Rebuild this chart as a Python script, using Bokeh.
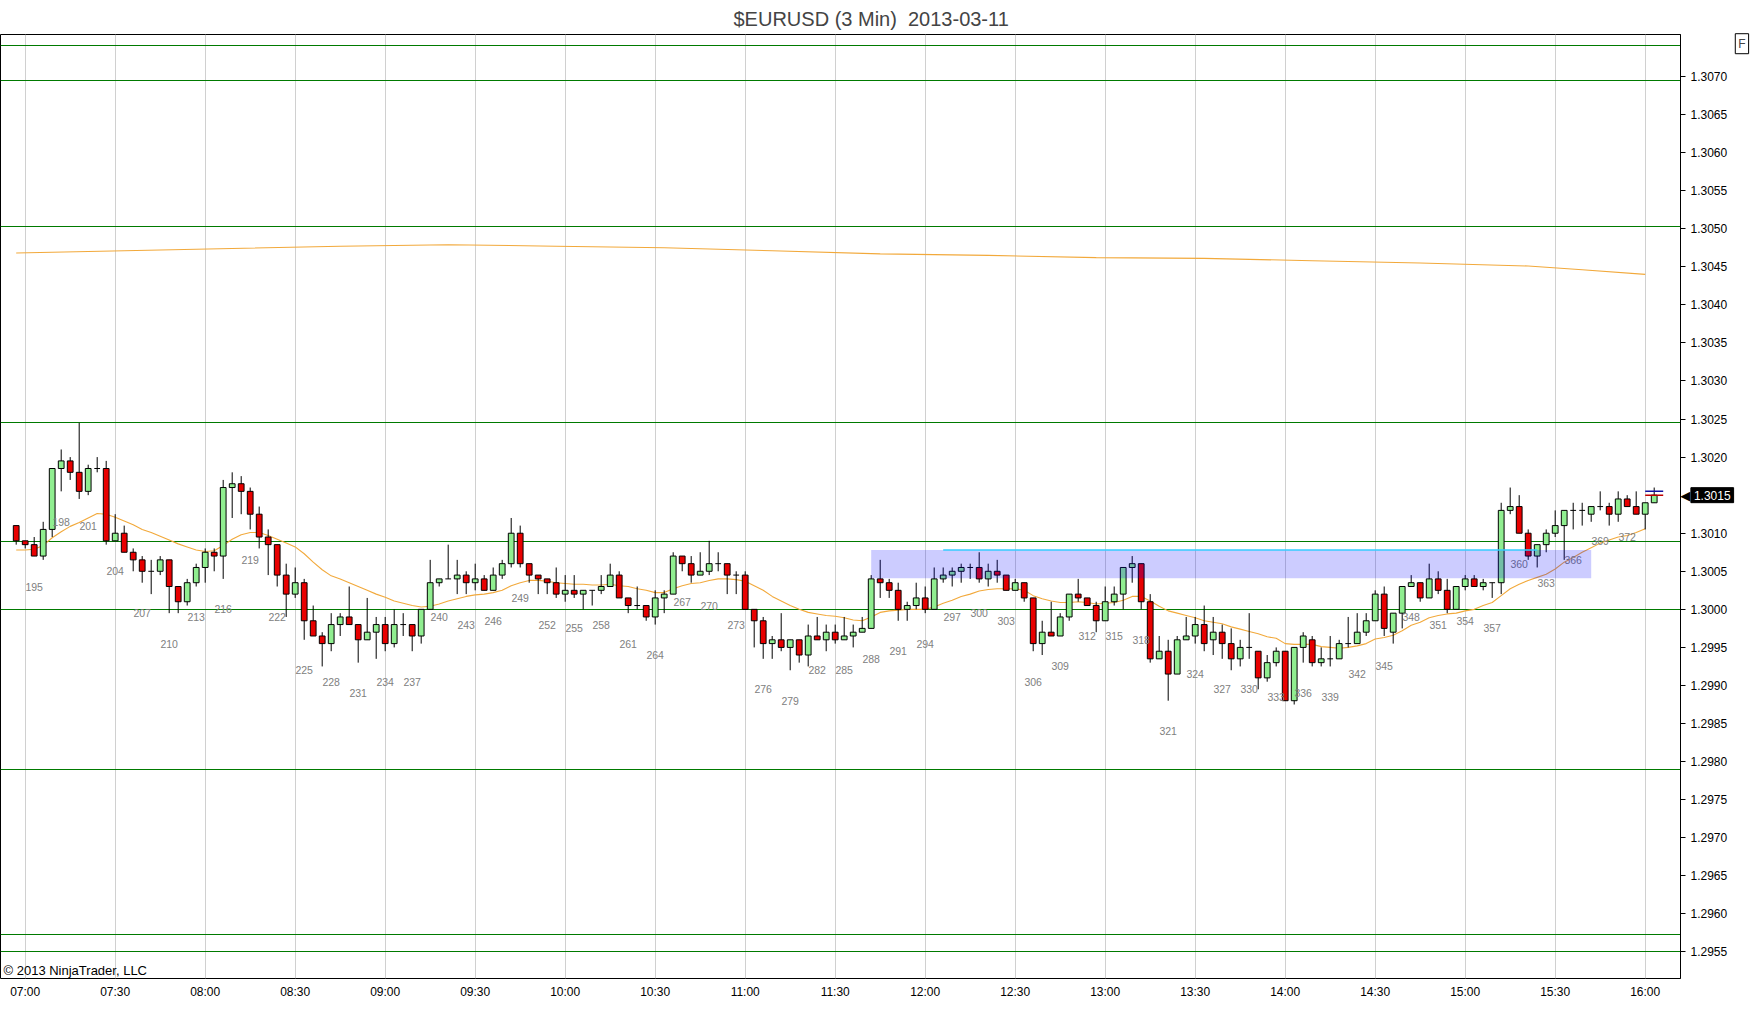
from bokeh.plotting import figure
from bokeh.models import ColumnDataSource, Range1d, FixedTicker, Label, NumeralTickFormatter
from bokeh.embed import file_html
from bokeh.resources import INLINE
from bokeh.core.properties import value

title_text = "$EURUSD (3 Min) \u00a02013-03-11"
copyright_text = "\u00a9 2013 NinjaTrader, LLC"

first_bar = 193
opens = [1.30110, 1.30090, 1.30085, 1.30070, 1.30105, 1.30185, 1.30195, 1.30180, 1.30155, 1.30185,
         1.30185, 1.30090, 1.30100, 1.30075, 1.30065, 1.30050, 1.30050, 1.30065, 1.30030, 1.30010,
         1.30035, 1.30055, 1.30075, 1.30070, 1.30160, 1.30165, 1.30155, 1.30125, 1.30095, 1.30085,
         1.30045, 1.30020, 1.30035, 1.29985, 1.29965, 1.29955, 1.29980, 1.29990, 1.29980, 1.29960,
         1.29970, 1.29980, 1.29955, 1.29980, 1.29980, 1.29965, 1.30000, 1.30035, 1.30040, 1.30040,
         1.30045, 1.30035, 1.30040, 1.30025, 1.30045, 1.30060, 1.30100, 1.30060, 1.30045, 1.30040,
         1.30035, 1.30020, 1.30025, 1.30020, 1.30025, 1.30025, 1.30030, 1.30045, 1.30015, 1.30005,
         1.30005, 1.29990, 1.30015, 1.30020, 1.30070, 1.30060, 1.30045, 1.30050, 1.30060, 1.30060,
         1.30045, 1.30045, 1.30000, 1.29985, 1.29955, 1.29960, 1.29950, 1.29960, 1.29940, 1.29965,
         1.29960, 1.29970, 1.29960, 1.29965, 1.29970, 1.29975, 1.30040, 1.30035, 1.30025, 1.30000,
         1.30005, 1.30015, 1.30000, 1.30040, 1.30045, 1.30050, 1.30055, 1.30055, 1.30040, 1.30050,
         1.30045, 1.30025, 1.30035, 1.30015, 1.29955, 1.29970, 1.29965, 1.29990, 1.30020, 1.30015,
         1.30005, 1.29985, 1.30010, 1.30020, 1.30055, 1.30060, 1.30010, 1.29935, 1.29945, 1.29915,
         1.29960, 1.29965, 1.29980, 1.29960, 1.29970, 1.29955, 1.29935, 1.29950, 1.29945, 1.29910,
         1.29930, 1.29945, 1.29880, 1.29950, 1.29960, 1.29930, 1.29935, 1.29935, 1.29955, 1.29955,
         1.29970, 1.29985, 1.30020, 1.29970, 1.29995, 1.30030, 1.30035, 1.30015, 1.30040, 1.30025,
         1.30000, 1.30030, 1.30040, 1.30030, 1.30035, 1.30035, 1.30130, 1.30135, 1.30100, 1.30070,
         1.30085, 1.30100, 1.30110, 1.30130, 1.30130, 1.30125, 1.30135, 1.30135, 1.30125, 1.30145,
         1.30135, 1.30125, 1.30140]
highs = [1.30110, 1.30090, 1.30095, 1.30115, 1.30185, 1.30210, 1.30200, 1.30245, 1.30190, 1.30200,
         1.30195, 1.30125, 1.30110, 1.30080, 1.30070, 1.30065, 1.30070, 1.30065, 1.30030, 1.30040,
         1.30060, 1.30080, 1.30080, 1.30170, 1.30180, 1.30175, 1.30160, 1.30135, 1.30105, 1.30085,
         1.30060, 1.30055, 1.30040, 1.30005, 1.29970, 1.29995, 1.29995, 1.30030, 1.29980, 1.30015,
         1.29990, 1.29990, 1.30000, 1.29995, 1.29980, 1.30000, 1.30065, 1.30040, 1.30085, 1.30065,
         1.30050, 1.30060, 1.30045, 1.30055, 1.30065, 1.30120, 1.30110, 1.30060, 1.30045, 1.30040,
         1.30055, 1.30045, 1.30045, 1.30025, 1.30025, 1.30045, 1.30060, 1.30050, 1.30015, 1.30030,
         1.30005, 1.30025, 1.30025, 1.30075, 1.30070, 1.30070, 1.30075, 1.30090, 1.30075, 1.30060,
         1.30050, 1.30050, 1.30000, 1.29990, 1.29965, 1.29995, 1.29960, 1.29960, 1.29980, 1.29990,
         1.29980, 1.29980, 1.29990, 1.29980, 1.29990, 1.30045, 1.30065, 1.30040, 1.30035, 1.30010,
         1.30035, 1.30030, 1.30055, 1.30055, 1.30055, 1.30060, 1.30060, 1.30075, 1.30060, 1.30065,
         1.30045, 1.30040, 1.30035, 1.30015, 1.29985, 1.30010, 1.29995, 1.30020, 1.30040, 1.30015,
         1.30010, 1.30030, 1.30030, 1.30055, 1.30070, 1.30060, 1.30020, 1.29965, 1.29960, 1.29965,
         1.29990, 1.29990, 1.30005, 1.29990, 1.29980, 1.29975, 1.29960, 1.29995, 1.29945, 1.29940,
         1.29950, 1.29945, 1.29950, 1.29970, 1.29965, 1.29950, 1.29965, 1.29960, 1.29990, 1.29995,
         1.29995, 1.30025, 1.30030, 1.29995, 1.30030, 1.30045, 1.30035, 1.30060, 1.30050, 1.30040,
         1.30030, 1.30045, 1.30045, 1.30040, 1.30035, 1.30140, 1.30160, 1.30150, 1.30105, 1.30085,
         1.30105, 1.30130, 1.30130, 1.30140, 1.30140, 1.30135, 1.30155, 1.30140, 1.30155, 1.30150,
         1.30155, 1.30140, 1.30160]
lows = [1.30085, 1.30080, 1.30070, 1.30065, 1.30095, 1.30155, 1.30170, 1.30145, 1.30150, 1.30180,
        1.30085, 1.30090, 1.30075, 1.30050, 1.30035, 1.30020, 1.30045, 1.29995, 1.29995, 1.30005,
        1.30030, 1.30035, 1.30050, 1.30040, 1.30120, 1.30125, 1.30105, 1.30080, 1.30045, 1.30030,
        1.29990, 1.30015, 1.29960, 1.29965, 1.29925, 1.29945, 1.29965, 1.29980, 1.29930, 1.29960,
        1.29935, 1.29945, 1.29950, 1.29965, 1.29945, 1.29955, 1.30000, 1.30030, 1.30040, 1.30020,
        1.30020, 1.30025, 1.30025, 1.30025, 1.30040, 1.30055, 1.30055, 1.30035, 1.30020, 1.30020,
        1.30015, 1.30010, 1.30015, 1.30000, 1.30005, 1.30020, 1.30030, 1.30015, 1.29995, 1.30000,
        1.29985, 1.29980, 1.29995, 1.30020, 1.30050, 1.30035, 1.30045, 1.30045, 1.30050, 1.30020,
        1.30020, 1.30000, 1.29950, 1.29935, 1.29935, 1.29945, 1.29920, 1.29930, 1.29925, 1.29960,
        1.29945, 1.29955, 1.29960, 1.29950, 1.29970, 1.29975, 1.30015, 1.30015, 1.29985, 1.29985,
        1.30000, 1.29995, 1.30000, 1.30035, 1.30030, 1.30035, 1.30040, 1.30035, 1.30030, 1.30035,
        1.30025, 1.30025, 1.30010, 1.29945, 1.29940, 1.29965, 1.29965, 1.29985, 1.30010, 1.30005,
        1.29970, 1.29985, 1.30005, 1.30000, 1.30035, 1.30000, 1.29930, 1.29935, 1.29880, 1.29915,
        1.29960, 1.29955, 1.29945, 1.29940, 1.29935, 1.29920, 1.29925, 1.29935, 1.29895, 1.29905,
        1.29925, 1.29880, 1.29875, 1.29930, 1.29925, 1.29925, 1.29925, 1.29935, 1.29950, 1.29955,
        1.29965, 1.29985, 1.29965, 1.29955, 1.29975, 1.30030, 1.30010, 1.30015, 1.30020, 1.29995,
        1.30000, 1.30025, 1.30030, 1.30025, 1.30015, 1.30020, 1.30125, 1.30100, 1.30065, 1.30055,
        1.30075, 1.30095, 1.30065, 1.30105, 1.30110, 1.30115, 1.30130, 1.30110, 1.30115, 1.30135,
        1.30125, 1.30105, 1.30140]
closes = [1.30090, 1.30085, 1.30070, 1.30105, 1.30185, 1.30195, 1.30180, 1.30155, 1.30185, 1.30185,
          1.30090, 1.30100, 1.30075, 1.30065, 1.30050, 1.30050, 1.30065, 1.30030, 1.30010, 1.30035,
          1.30055, 1.30075, 1.30070, 1.30160, 1.30165, 1.30155, 1.30125, 1.30095, 1.30085, 1.30045,
          1.30020, 1.30035, 1.29985, 1.29965, 1.29955, 1.29980, 1.29990, 1.29980, 1.29960, 1.29970,
          1.29980, 1.29955, 1.29980, 1.29980, 1.29965, 1.30000, 1.30035, 1.30040, 1.30040, 1.30045,
          1.30035, 1.30040, 1.30025, 1.30045, 1.30060, 1.30100, 1.30060, 1.30045, 1.30040, 1.30035,
          1.30020, 1.30025, 1.30020, 1.30025, 1.30025, 1.30030, 1.30045, 1.30015, 1.30005, 1.30005,
          1.29990, 1.30015, 1.30020, 1.30070, 1.30060, 1.30045, 1.30050, 1.30060, 1.30060, 1.30045,
          1.30045, 1.30000, 1.29985, 1.29955, 1.29960, 1.29950, 1.29960, 1.29940, 1.29965, 1.29960,
          1.29970, 1.29960, 1.29965, 1.29970, 1.29975, 1.30040, 1.30035, 1.30025, 1.30000, 1.30005,
          1.30015, 1.30000, 1.30040, 1.30045, 1.30050, 1.30055, 1.30055, 1.30040, 1.30050, 1.30045,
          1.30025, 1.30035, 1.30015, 1.29955, 1.29970, 1.29965, 1.29990, 1.30020, 1.30015, 1.30005,
          1.29985, 1.30010, 1.30020, 1.30055, 1.30060, 1.30010, 1.29935, 1.29945, 1.29915, 1.29960,
          1.29965, 1.29980, 1.29955, 1.29970, 1.29955, 1.29935, 1.29950, 1.29950, 1.29910, 1.29930,
          1.29945, 1.29880, 1.29950, 1.29965, 1.29930, 1.29935, 1.29935, 1.29955, 1.29955, 1.29970,
          1.29985, 1.30020, 1.29975, 1.29995, 1.30030, 1.30035, 1.30015, 1.30040, 1.30025, 1.30000,
          1.30030, 1.30040, 1.30030, 1.30035, 1.30035, 1.30130, 1.30135, 1.30100, 1.30070, 1.30085,
          1.30100, 1.30110, 1.30130, 1.30130, 1.30130, 1.30135, 1.30135, 1.30125, 1.30145, 1.30135,
          1.30125, 1.30140, 1.30150]

fast_avg = [1.30078, 1.30078, 1.30079, 1.30084, 1.30094, 1.30102, 1.30109, 1.30114, 1.30120, 1.30126,
            1.30125, 1.30121, 1.30116, 1.30111, 1.30105, 1.30101, 1.30096, 1.30091, 1.30086, 1.30082,
            1.30078, 1.30076, 1.30077, 1.30084, 1.30092, 1.30098, 1.30101, 1.30101, 1.30097, 1.30092,
            1.30087, 1.30082, 1.30073, 1.30062, 1.30052, 1.30044, 1.30040, 1.30035, 1.30030, 1.30025,
            1.30020, 1.30016, 1.30011, 1.30008, 1.30005, 1.30003, 1.30004, 1.30007, 1.30011, 1.30014,
            1.30017, 1.30019, 1.30020, 1.30022, 1.30025, 1.30031, 1.30035, 1.30038, 1.30038, 1.30037,
            1.30035, 1.30034, 1.30033, 1.30033, 1.30032, 1.30032, 1.30033, 1.30031, 1.30030, 1.30027,
            1.30025, 1.30022, 1.30022, 1.30027, 1.30031, 1.30034, 1.30035, 1.30038, 1.30040, 1.30040,
            1.30039, 1.30037, 1.30031, 1.30025, 1.30017, 1.30011, 1.30005, 1.30000, 1.29996, 1.29994,
            1.29992, 1.29991, 1.29989, 1.29986, 1.29985, 1.29990, 1.29996, 1.29998, 1.29999, 1.30000,
            1.30000, 1.30000, 1.30003, 1.30008, 1.30012, 1.30017, 1.30020, 1.30024, 1.30026, 1.30027,
            1.30027, 1.30027, 1.30025, 1.30018, 1.30014, 1.30011, 1.30009, 1.30009, 1.30010, 1.30009,
            1.30007, 1.30008, 1.30009, 1.30012, 1.30017, 1.30017, 1.30011, 1.30004, 1.29998, 1.29995,
            1.29992, 1.29989, 1.29985, 1.29983, 1.29981, 1.29977, 1.29974, 1.29971, 1.29968, 1.29964,
            1.29962, 1.29955, 1.29954, 1.29954, 1.29954, 1.29951, 1.29950, 1.29949, 1.29950, 1.29952,
            1.29955, 1.29961, 1.29963, 1.29966, 1.29972, 1.29979, 1.29983, 1.29989, 1.29992, 1.29994,
            1.29995, 1.29998, 1.30000, 1.30005, 1.30009, 1.30018, 1.30027, 1.30033, 1.30038, 1.30042,
            1.30046, 1.30053, 1.30062, 1.30068, 1.30075, 1.30081, 1.30087, 1.30091, 1.30095, 1.30097,
            1.30101, 1.30106]

slow_avg_bars = [193, 205, 217, 229, 241, 253, 265, 277, 289, 301, 313, 325, 337, 349, 361, 367, 374]
slow_avg = [1.30468, 1.30471, 1.30474, 1.30477, 1.30479, 1.30477, 1.30475, 1.30471, 1.30467,
            1.30465, 1.30462, 1.30461, 1.30458, 1.30455, 1.30451, 1.30446, 1.30440]

level_lines = [1.30740, 1.30695, 1.30503, 1.30246, 1.30089, 1.30000, 1.29790, 1.29573, 1.29551]

zone_left_bar, zone_right_bar = 288, 368
zone_low, zone_high = 1.30041, 1.30078
ray_start_bar, ray_end_bar = 296, 362
ray_price = 1.30078

ask_price, bid_price = 1.30155, 1.30150
quote_start_bar, quote_end_bar = 374, 376

time_tick_bars = [194, 204, 214, 224, 234, 244, 254, 264, 274, 284, 294, 304, 314, 324, 334, 344, 354, 364, 374]
time_tick_labels = ["07:00", "07:30", "08:00", "08:30", "09:00", "09:30", "10:00", "10:30", "11:00", "11:30",
                    "12:00", "12:30", "13:00", "13:30", "14:00", "14:30", "15:00", "15:30", "16:00"]

price_ticks = [1.2955, 1.2960, 1.2965, 1.2970, 1.2975, 1.2980, 1.2985, 1.2990, 1.2995, 1.3000,
               1.3005, 1.3010, 1.3015, 1.3020, 1.3025, 1.3030, 1.3035, 1.3040, 1.3045, 1.3050,
               1.3055, 1.3060, 1.3065, 1.3070]

FONT = "Liberation Sans"
UP = "#90EE90"
DOWN = "#E80000"

bars = list(range(first_bar, first_bar + len(opens)))
fast_bars = list(range(first_bar, first_bar + len(fast_avg)))

p = figure(frame_width=1680, frame_height=944,
           x_range=Range1d(191.256, 377.922), y_range=Range1d(1.295151, 1.307551),
           x_axis_location="below", y_axis_location="right",
           output_backend="svg", toolbar_location=None,
           min_border_left=0, min_border_right=70, min_border_top=0, min_border_bottom=50,
           background_fill_color="white", border_fill_color="white",
           outline_line_color="black", outline_line_width=1)

p.title.text = title_text
p.title.align = "left"
p.title.offset = 733
p.title.text_font = FONT
p.title.text_font_style = "normal"
p.title.text_font_size = "20px"
p.title.standoff = 10

# axes
p.ygrid.visible = False
xt = FixedTicker(ticks=time_tick_bars)
p.xaxis.ticker = xt
p.xgrid.ticker = xt
p.xgrid.grid_line_color = "#D0D0D0"
p.xaxis.major_label_overrides = {b: lab for b, lab in zip(time_tick_bars, time_tick_labels)}
p.xaxis.major_tick_line_color = None
p.xaxis.major_tick_out = 0
p.xaxis.major_tick_in = 0
p.xaxis.minor_tick_line_color = None
p.xaxis.minor_tick_out = 0
p.xaxis.axis_line_color = None
p.xaxis.major_label_standoff = 6
p.xaxis.major_label_text_font = FONT
p.xaxis.major_label_text_font_size = "12px"
p.xaxis.major_label_text_color = "black"

cur_label = f"{closes[-1]:.4f}"
axis_ticks = [t for t in price_ticks if f"{t:.4f}" != cur_label]
p.yaxis.ticker = FixedTicker(ticks=axis_ticks)
p.yaxis.formatter = NumeralTickFormatter(format="0.0000")
p.yaxis.minor_tick_line_color = None
p.yaxis.major_tick_in = 0
p.yaxis.major_tick_out = 5
p.yaxis.major_label_standoff = 5
p.yaxis.axis_line_color = "black"
p.yaxis.major_label_text_font = FONT
p.yaxis.major_label_text_font_size = "12px"
p.yaxis.major_label_text_color = "black"

# horizontal levels
p.hspan(y=level_lines, line_color="#007A00", line_width=1)

# moving averages
p.line(slow_avg_bars, slow_avg, line_color="#F2A93B", line_width=1.1)
p.line(fast_bars, fast_avg, line_color="#F2A93B", line_width=1.1)

# candles
p.segment(x0=bars, y0=highs, x1=bars, y1=lows, line_color="black", line_width=1)
body = dict(x=[], top=[], bottom=[], color=[])
doji = dict(x0=[], x1=[], y=[])
half = 0.32
for b, o, c in zip(bars, opens, closes):
    if c == o:
        doji["x0"].append(b - half)
        doji["x1"].append(b + half)
        doji["y"].append(o)
    else:
        body["x"].append(b)
        body["top"].append(max(o, c))
        body["bottom"].append(min(o, c))
        body["color"].append(UP if c > o else DOWN)
p.vbar(x="x", top="top", bottom="bottom", width=2 * half, fill_color="color",
       line_color="black", line_width=1, source=ColumnDataSource(body))
p.segment(x0="x0", y0="y", x1="x1", y1="y", line_color="black", line_width=1,
          source=ColumnDataSource(doji))

# bar numbers
num = dict(x=[], y=[], t=[])
for b, lo in zip(bars, lows):
    if b % 3 == 0 and b < bars[-1]:
        num["x"].append(b)
        num["y"].append(lo - 0.0004)
        num["t"].append(str(b))
p.text(x="x", y="y", text="t", source=ColumnDataSource(num), text_align="center",
       text_baseline="middle", text_color="#808080", text_font=value(FONT),
       text_font_size=value("10.5px"))

# zone
p.quad(left=[zone_left_bar], right=[zone_right_bar], bottom=[zone_low], top=[zone_high],
       fill_color="#0000FF", fill_alpha=0.2, line_alpha=0)
p.segment(x0=[ray_start_bar], x1=[ray_end_bar], y0=[ray_price], y1=[ray_price],
          line_color="#33CCFF", line_width=1.5)

# bid / ask marks
p.segment(x0=[quote_start_bar], x1=[quote_end_bar], y0=[ask_price], y1=[ask_price],
          line_color="#1010A0", line_width=1.5)
p.segment(x0=[quote_start_bar], x1=[quote_end_bar], y0=[bid_price], y1=[bid_price],
          line_color="#C00000", line_width=1.5)

# current price marker on the price axis (side panel, so it is not clipped)
cp = closes[-1]
p.add_layout(Label(x=378.45, y=cp, x_units="data", y_units="data", text="\u25c0",
                   text_color="black", text_font="DejaVu Sans", text_font_size="13px",
                   text_align="center", text_baseline="middle"), "right")
p.add_layout(Label(x=381.45, y=cp, x_units="data", y_units="data", text=cur_label,
                   text_color="white", text_font=FONT, text_font_size="12px",
                   text_align="center", text_baseline="middle",
                   background_fill_color="black", border_line_color="black", padding=3), "right")

# F box
p.add_layout(Label(x=384.75, y=1.30743, x_units="data", y_units="data", text="F",
                   text_font=FONT, text_font_size="12px", text_align="center",
                   text_baseline="middle", border_line_color="black",
                   background_fill_color="white", padding=3), "right")

# copyright
p.add_layout(Label(x=3, y=1.29526, x_units="screen", y_units="data", text=copyright_text,
                   text_font=FONT, text_font_size="13px", text_baseline="middle",
                   text_color="black"))

open("out.html", "w").write(file_html(p, INLINE))
